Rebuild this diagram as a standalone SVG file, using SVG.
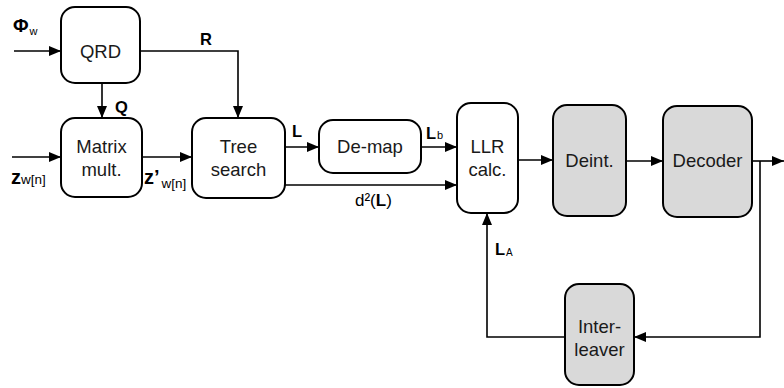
<svg xmlns="http://www.w3.org/2000/svg" width="784" height="388" viewBox="0 0 784 388">
<defs>
<marker id="ah" markerWidth="12" markerHeight="10" refX="12" refY="5" orient="auto" markerUnits="userSpaceOnUse">
<path d="M0,0 L12,5 L0,10 Z" fill="#000"/>
</marker>
<style>
.box{fill:#fff;stroke:#000;stroke-width:2}
.gray{fill:#d9d9d9}
.ln{fill:none;stroke:#000;stroke-width:1.6}
.t{font-family:"Liberation Sans",Arial,sans-serif;font-size:18.5px;text-anchor:middle;fill:#1a1a1a}
.b{font-family:"Liberation Sans",Arial,sans-serif;font-size:16.5px;font-weight:bold;fill:#000}
.s{font-family:"Liberation Sans",Arial,sans-serif;font-size:11px;font-weight:normal;fill:#000}
.n{font-family:"Liberation Sans",Arial,sans-serif;font-size:17px;fill:#000}
</style>
</defs>
<rect width="784" height="388" fill="#fff"/>
<g id="connectors">
<path class="ln" d="M14,51 H61" marker-end="url(#ah)"/>
<path class="ln" d="M12,157 H61" marker-end="url(#ah)"/>
<path class="ln" d="M102,83 V118" marker-end="url(#ah)"/>
<path class="ln" d="M140,51 H238 V118" marker-end="url(#ah)"/>
<path class="ln" d="M142,157 H192" marker-end="url(#ah)"/>
<path class="ln" d="M285,147 H319" marker-end="url(#ah)"/>
<path class="ln" d="M421,147 H457" marker-end="url(#ah)"/>
<path class="ln" d="M285,185 H457" marker-end="url(#ah)"/>
<path class="ln" d="M518,160 H553" marker-end="url(#ah)"/>
<path class="ln" d="M626,161 H663" marker-end="url(#ah)"/>
<path class="ln" d="M752,161 H784" marker-end="url(#ah)"/>
<path class="ln" d="M760,161 V337 H634" marker-end="url(#ah)"/>
<path class="ln" d="M565,337 H487 V213" marker-end="url(#ah)"/>
</g>
<g id="qrd"><rect class="box" x="61" y="7" width="79" height="76" rx="14"/><text class="t" x="100.5" y="58">QRD</text></g>
<g id="matrix"><rect class="box" x="61" y="118" width="81" height="79" rx="14"/><text class="t" x="101.5" y="153">Matrix</text><text class="t" x="101.5" y="176">mult.</text></g>
<g id="tree"><rect class="box" x="192" y="118" width="93" height="80" rx="14"/><text class="t" x="238.5" y="153">Tree</text><text class="t" x="238.5" y="176">search</text></g>
<g id="demap"><rect class="box" x="319" y="120" width="102" height="53" rx="14"/><text class="t" x="370" y="153">De-map</text></g>
<g id="llr"><rect class="box" x="457" y="103" width="61" height="110" rx="14"/><text class="t" x="487.5" y="153">LLR</text><text class="t" x="487.5" y="176">calc.</text></g>
<g id="deint"><rect class="box gray" x="553" y="105" width="73" height="111" rx="14"/><text class="t" x="589.5" y="167">Deint.</text></g>
<g id="decoder"><rect class="box gray" x="663" y="106" width="89" height="111" rx="14"/><text class="t" x="707.5" y="167">Decoder</text></g>
<g id="interleaver"><rect class="box gray" x="565" y="284" width="69" height="101" rx="14"/><text class="t" x="599.5" y="333">Inter-</text><text class="t" x="599.5" y="356">leaver</text></g>
<g id="labels">
<text class="b" x="13" y="32" style="font-size:19px">Φ<tspan class="s" dx="1" dy="3">w</tspan></text>
<text class="b" x="200" y="45">R</text>
<text class="b" x="115" y="113">Q</text>
<text class="b" x="11" y="184" style="font-size:20px">z<tspan class="s" dx="0" style="font-size:13.5px">w[n]</tspan></text>
<text class="b" x="144" y="184" style="font-size:20px">z’<tspan class="s" dx="2" dy="4" style="font-size:13.5px">w[n]</tspan></text>
<text class="b" x="292" y="137">L</text>
<text class="b" x="426" y="139">L<tspan class="s" dx="1">b</tspan></text>
<text class="n" x="355" y="206">d²(<tspan style="font-weight:bold">L</tspan>)</text>
<text class="b" x="495" y="255">L<tspan class="s" dx="1" dy="1" style="font-size:10px">A</tspan></text>
</g>
</svg>
